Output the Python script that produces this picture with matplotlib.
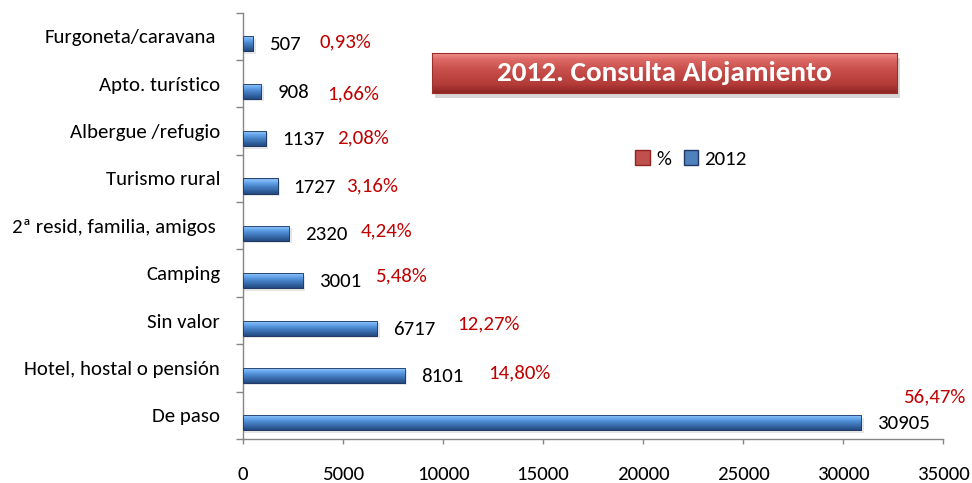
import matplotlib
matplotlib.use("Agg")
import matplotlib.pyplot as plt
import numpy as np
from matplotlib import font_manager
from matplotlib.patches import Patch, Rectangle
from matplotlib.colors import LinearSegmentedColormap

# ---------------- data ----------------
categories = ["De paso", "Hotel, hostal o pensión", "Sin valor", "Camping",
              "2ª resid, familia, amigos", "Turismo rural", "Albergue /refugio",
              "Apto. turístico", "Furgoneta/caravana"]
values_2012 = [30905, 8101, 6717, 3001, 2320, 1727, 1137, 908, 507]
percent = [56.47, 14.80, 12.27, 5.48, 4.24, 3.16, 2.08, 1.66, 0.93]
x_ticks = [0, 5000, 10000, 15000, 20000, 25000, 30000, 35000]
title = "2012. Consulta Alojamiento"
series_names = ["%", "2012"]

# percent label placement (pixel offsets from bar end: dx, dy up)
pct_offsets_px = [(42, 26), (83, 3), (80, 4), (72, 5), (71, 3), (68, 0), (71, 1), (66, -3), (66, 2)]
# small right-shift of y labels that ended with a blank in the original
ylabel_shift_px = [0, 0, 0, 0, 4, 0, 0, 0, 4]

# ---------------- fonts ----------------
avail = {f.name for f in font_manager.fontManager.ttflist}
if "Carlito" in avail:
    FAM = ["Carlito", "DejaVu Sans"]
    FS = 15
    TFS = 21
else:
    FAM = ["Lato", "DejaVu Sans"]
    FS = 13.2
    TFS = 18.3
plt.rcParams["font.family"] = FAM

W, H, DPI = 9.72, 4.83, 100
fig = plt.figure(figsize=(W, H), dpi=DPI)
PX = 72.0 / DPI  # points per pixel

L, R, B, T = 243, 943, 439, 12.6
ax = fig.add_axes([L / 972, 1 - B / 483, (R - L) / 972, (B - T) / 483])

n = len(categories)
y = np.arange(n)
bh = 0.32
off = 0.16

blue_cmap = LinearSegmentedColormap.from_list(
    "b", [(0.0, "#244a7e"), (0.3, "#3a6db0"), (0.5, "#4a86cc"), (0.72, "#66a6ec"),
          (0.9, "#8cc3f7"), (1.0, "#4d86c8")])

# shadows
for yi, v in zip(y, values_2012):
    ax.add_patch(Rectangle((0, yi - off - bh / 2 - 0.05), v + 120, bh, facecolor="#000000",
                           alpha=0.10, edgecolor="none", zorder=1))

# % series (tiny values, practically invisible as in the original)
ax.barh(y + off, percent, height=bh, color="#c0504d", zorder=2)
bars = ax.barh(y - off, values_2012, height=bh, color="#4f81bd", edgecolor="#1f3864",
               linewidth=0.6, zorder=2)
grad = np.linspace(0, 1, 64).reshape(-1, 1)
for b in bars:
    x0, y0 = b.get_x(), b.get_y()
    w, h = b.get_width(), b.get_height()
    im = ax.imshow(grad, extent=[x0, x0 + w, y0, y0 + h], origin="lower", aspect="auto",
                   cmap=blue_cmap, zorder=3)
    im.set_clip_path(b)
    ax.add_patch(Rectangle((x0, y0), w, h, facecolor="none", edgecolor="#1f3864",
                           linewidth=0.6, zorder=4))

ax.set_xlim(0, 35000)
ax.set_ylim(-0.5, n - 0.5)

# value labels
for yi, v, p, (dx, dy) in zip(y, values_2012, percent, pct_offsets_px):
    ax.annotate(f"{v}", xy=(v, yi - off), xytext=(16 * PX, -1 * PX),
                textcoords="offset points", ha="left", va="center", fontsize=FS, color="black")
    ax.annotate(f"{p:.2f}%".replace(".", ","), xy=(v, yi - off), xytext=(dx * PX, dy * PX),
                textcoords="offset points", ha="left", va="center", fontsize=FS, color="#c00000")

# axes styling
for s in ["top", "right"]:
    ax.spines[s].set_visible(False)
for s in ["left", "bottom"]:
    ax.spines[s].set_color("#868686")
    ax.spines[s].set_linewidth(1.0)

ax.set_xticks(x_ticks)
ax.set_xticklabels([str(t) for t in x_ticks], fontsize=FS)
ax.tick_params(axis="x", direction="out", length=5 * PX, width=1, color="#868686", pad=15.5)

ax.set_yticks(y)
ax.set_yticklabels(categories, fontsize=FS)
ax.tick_params(axis="y", which="major", length=0, pad=16.5)
for lab, s in zip(ax.get_yticklabels(), ylabel_shift_px):
    if s:
        lab.set_transform(lab.get_transform() + matplotlib.transforms.ScaledTranslation(-s / DPI, 0, fig.dpi_scale_trans))
ax.set_yticks(np.arange(-0.5, n, 1.0), minor=True)
ax.tick_params(axis="y", which="minor", direction="out", length=7 * PX, width=1, color="#868686")

# title box
tx0, tx1, ty0, ty1 = 432, 897, 53, 93
sh = fig.add_axes([(tx0 + 3) / 972, 1 - (ty1 + 5) / 483, (tx1 - tx0) / 972, (ty1 - ty0) / 483])
sh.add_patch(Rectangle((0, 0), 1, 1, facecolor="#000000", alpha=0.16, edgecolor="none"))
sh.set_xlim(0, 1); sh.set_ylim(0, 1); sh.axis("off")
tax = fig.add_axes([tx0 / 972, 1 - ty1 / 483, (tx1 - tx0) / 972, (ty1 - ty0) / 483])
red_cmap = LinearSegmentedColormap.from_list(
    "r", [(0.0, "#8e2523"), (0.2, "#b23a37"), (0.6, "#c9504c"), (0.85, "#dd6a66"), (1.0, "#f08f8b")])
tax.imshow(grad, extent=[0, 1, 0, 1], origin="lower", aspect="auto", cmap=red_cmap)
tax.set_xlim(0, 1); tax.set_ylim(0, 1)
tax.set_xticks([]); tax.set_yticks([])
for s in tax.spines.values():
    s.set_color("#9b2f2d"); s.set_linewidth(0.8)
tax.text(0.5, 0.5, title, ha="center", va="center", color="white", fontsize=TFS,
         fontweight="bold", transform=tax.transAxes)

# legend
handles = [Patch(facecolor="#c0504d", edgecolor="#8e2523", label=series_names[0]),
           Patch(facecolor="#4f81bd", edgecolor="#1f3864", label=series_names[1])]
fig.legend(handles=handles, loc="center", bbox_to_anchor=(691 / 972, 1 - 159 / 483), ncol=2,
           frameon=False, fontsize=FS, handlelength=0.7, handleheight=0.7,
           handletextpad=0.3, columnspacing=0.6, borderpad=0)

fig.savefig("out.png", dpi=DPI)
